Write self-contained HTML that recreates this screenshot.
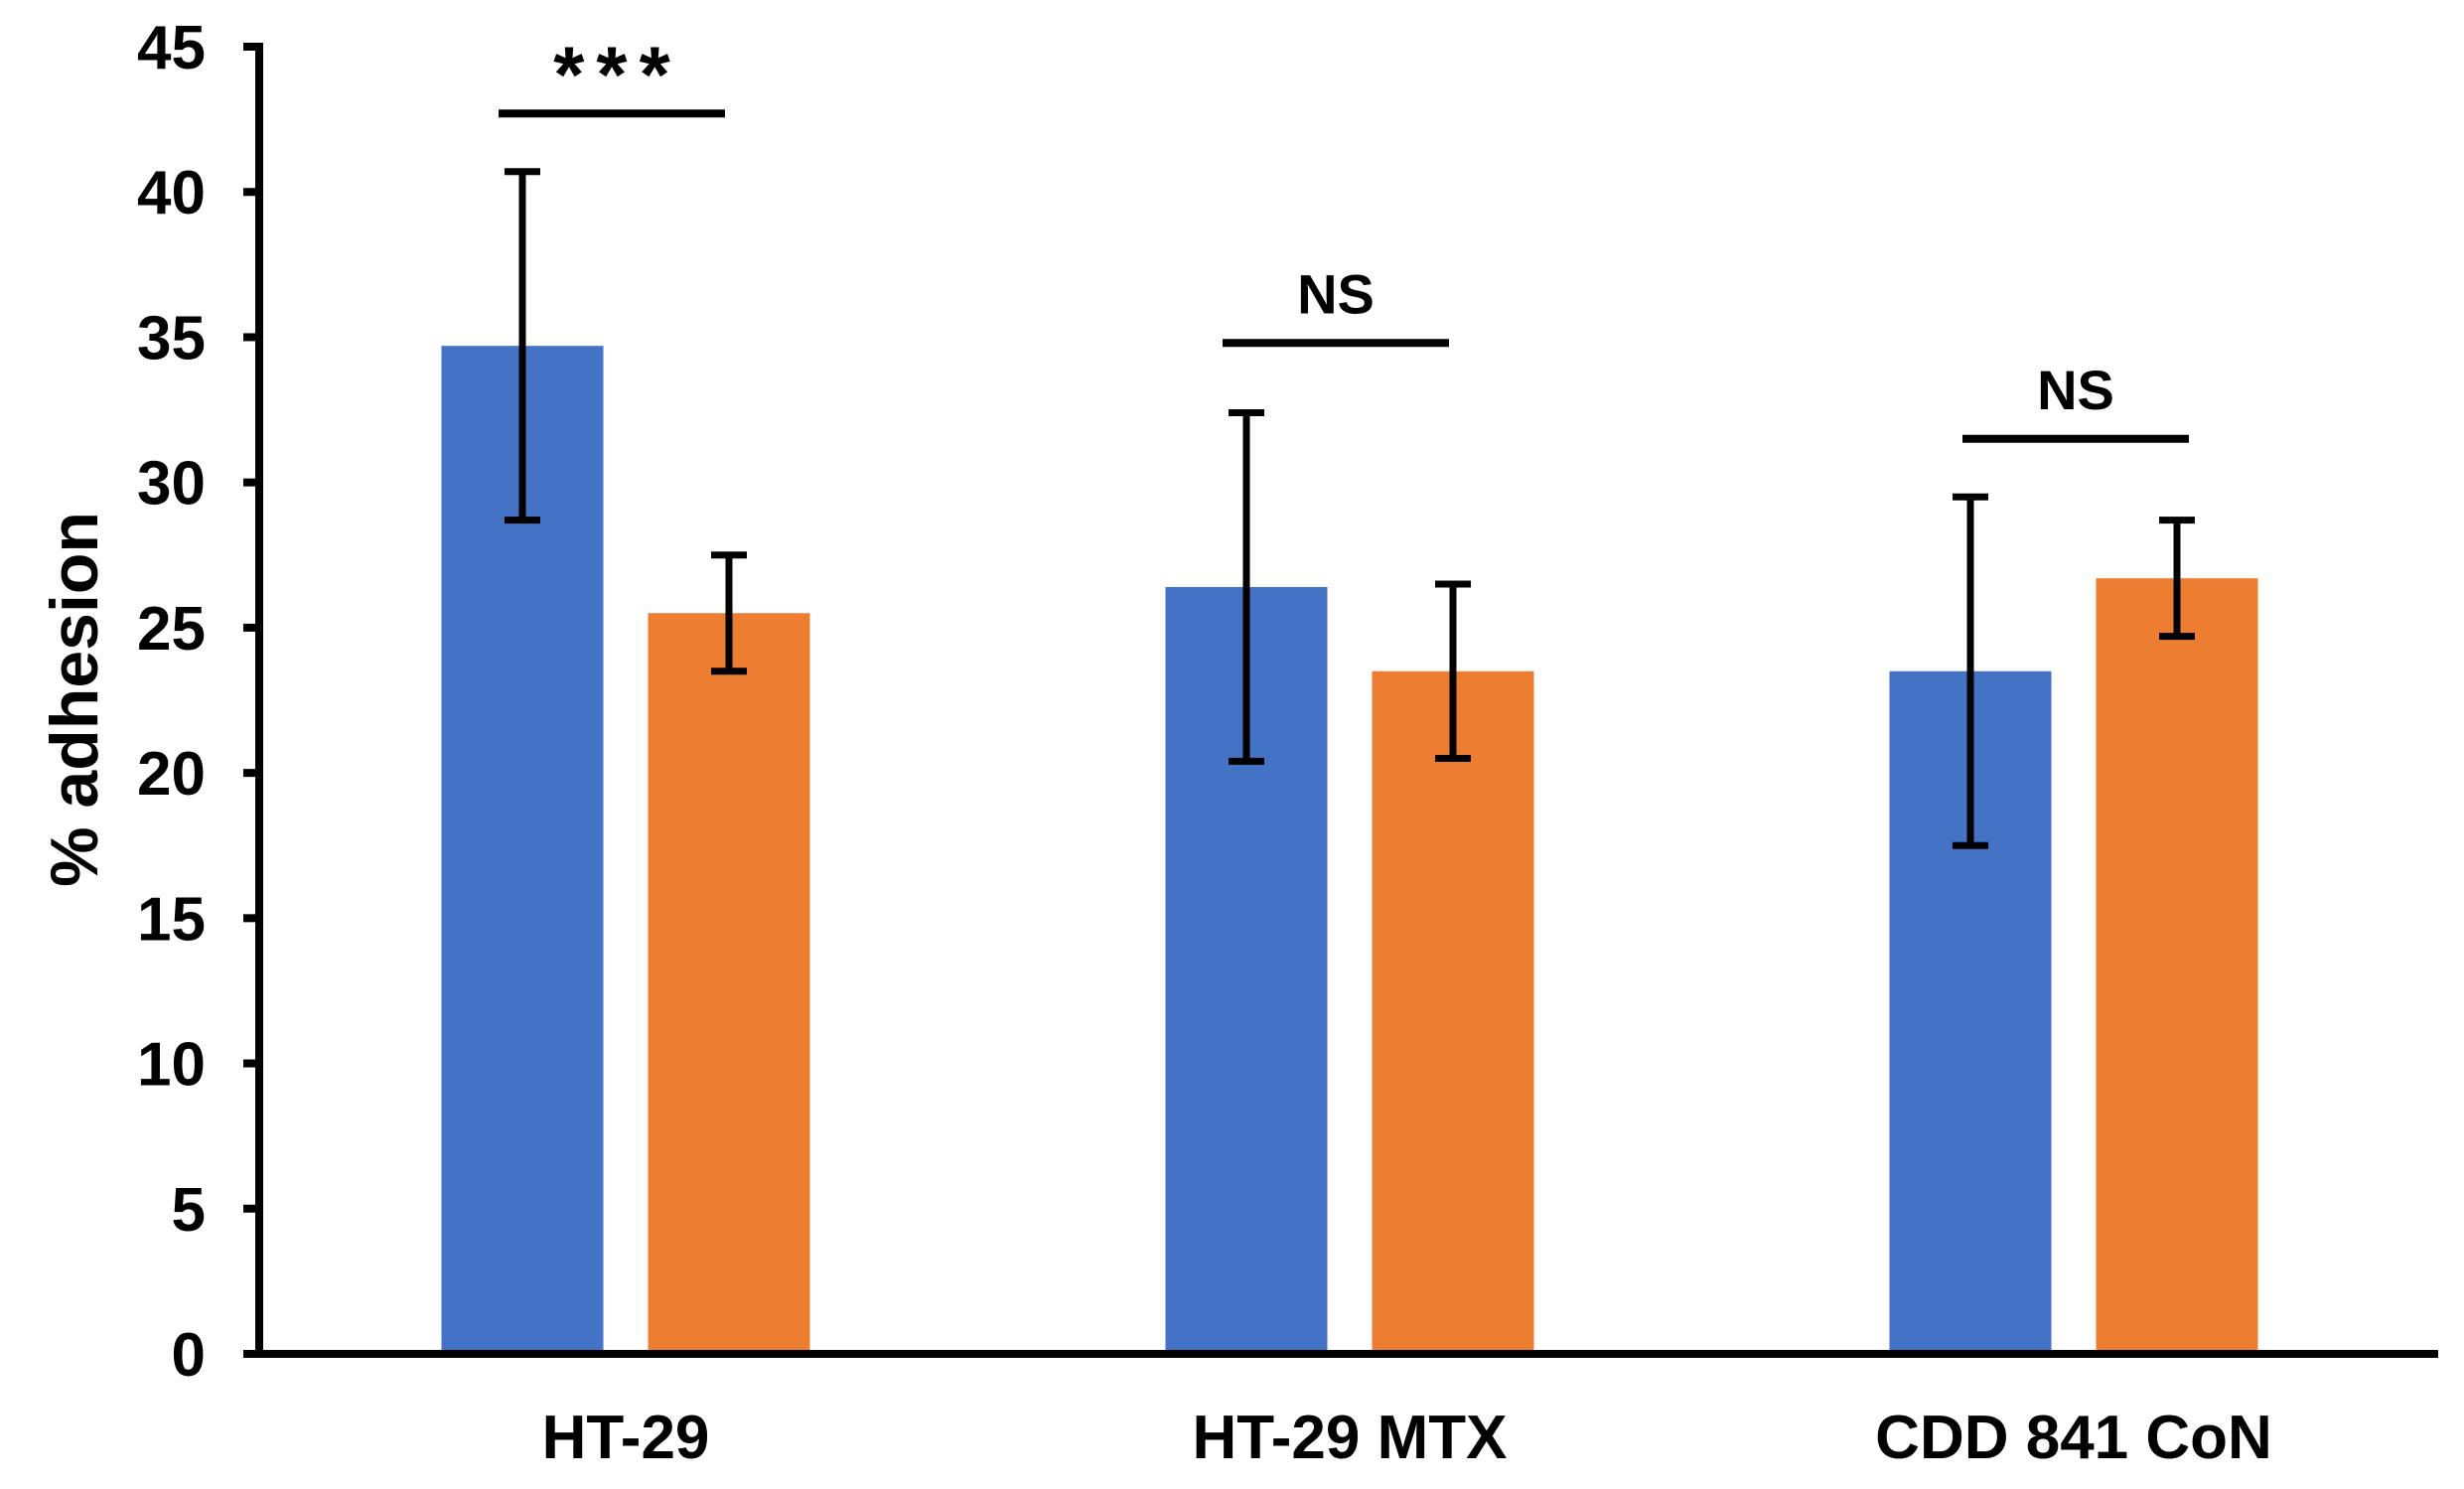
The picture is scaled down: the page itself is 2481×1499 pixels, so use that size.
<!DOCTYPE html>
<html><head><meta charset="utf-8"><style>
html,body{margin:0;padding:0;background:#fff;}
svg{display:block;font-family:"Liberation Sans",Arial,sans-serif;font-weight:bold;}
</style></head><body>
<svg id="chart" width="2481" height="1499" viewBox="0 0 2481 1499" xmlns="http://www.w3.org/2000/svg">
<text transform="translate(98,704) rotate(-90)" text-anchor="middle" font-size="68">% adhesion</text>
<g id="g"></g>
</svg>
<script>
const categories = ["HT-29","HT-29 MTX","CDD 841 CoN"];
const blueValues = [34.7, 26.4, 23.5];
const blueErrors = [6.0, 6.0, 6.0];
const orangeValues = [25.5, 23.5, 26.7];
const orangeErrors = [2.0, 3.0, 2.0];
const yTicks = [0,5,10,15,20,25,30,35,40,45];
const sigLabels = ["***","NS","NS"];
const sigLevels = [42.7, 34.8, 31.5];

const NS="http://www.w3.org/2000/svg";
const g=document.getElementById('g');
const X0=261, X1=2455, Y0=1363, Y45=47;
const y=v=>Y0-(v/45)*(Y0-Y45);
const groupCenter=i=>630+i*729;
function mk(tag,attrs){const e=document.createElementNS(NS,tag);for(const k in attrs)e.setAttribute(k,attrs[k]);g.appendChild(e);return e;}
const BW=163, GAP=45;
categories.forEach((c,i)=>{
  const cx=groupCenter(i);
  const bx=cx-GAP/2-BW, ox=cx+GAP/2;
  const b=mk('rect',{x:bx,y:y(blueValues[i]),width:BW,height:Y0-y(blueValues[i]),fill:'#4472C4'});
  
  
  const o=mk('rect',{x:ox,y:y(orangeValues[i]),width:BW,height:Y0-y(orangeValues[i]),fill:'#ED7D31'});
  
  
  [[bx+BW/2,blueValues[i],blueErrors[i],'blue'],[ox+BW/2,orangeValues[i],orangeErrors[i],'orange']].forEach(([ex,v,e,n])=>{
    const p=mk('path',{d:`M${ex},${y(v-e)}V${y(v+e)}M${ex-18},${y(v-e)}h36M${ex-18},${y(v+e)}h36`,stroke:'#000','stroke-width':7,fill:'none'});
    
    
  });
  const t=mk('text',{x:cx,y:1468,'text-anchor':'middle','font-size':62});
  t.textContent=c;
  
  
  const sy=y(sigLevels[i]);
  const sc=cx-14+(i===2?16:0);
  const sl=mk('line',{x1:sc-114,x2:sc+114,y1:sy,y2:sy,stroke:'#000','stroke-width':8});
  
  
  const star=sigLabels[i]==='***';
  const st=mk('text',{x:star?sc+6:sc,y:star?sy-12:sy-30,'text-anchor':'middle','font-size':star?80:56,'letter-spacing':star?12:0});
  st.textContent=sigLabels[i];
  
  
});
yTicks.forEach(v=>{
  const tk=mk('line',{x1:245,x2:X0,y1:y(v),y2:y(v),stroke:'#000','stroke-width':8});
  
  
  const t=mk('text',{x:207,y:y(v)+22,'text-anchor':'end','font-size':62});
  t.textContent=v;
  
  
});
const ya=mk('line',{x1:X0,x2:X0,y1:Y45-4,y2:Y0+4,stroke:'#000','stroke-width':8});


const xa=mk('line',{x1:245,x2:X1,y1:Y0,y2:Y0,stroke:'#000','stroke-width':8});


</script>
</body></html>
